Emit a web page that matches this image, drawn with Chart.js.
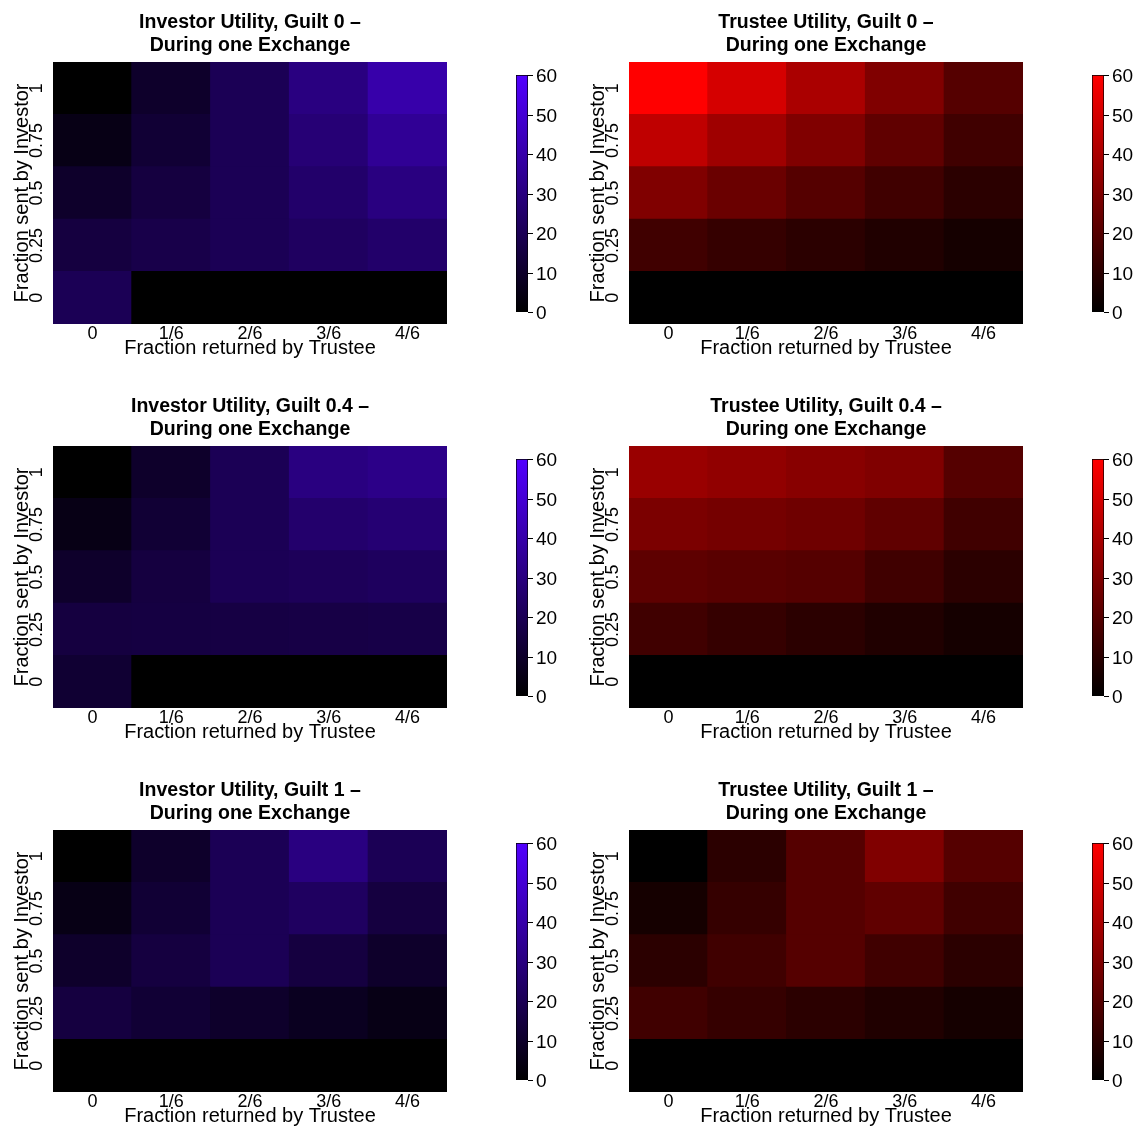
<!DOCTYPE html>
<html>
<head>
<meta charset="utf-8">
<script src="https://cdn.jsdelivr.net/npm/chart.js"></script>
<style>
  body { margin: 0; background: #fff; width: 1146px; height: 1129px; position: relative; overflow: hidden; }
  canvas { position: absolute; }
</style>
</head>
<body>
<script>
// axis categories
const returnedLabels = ['0', '1/6', '2/6', '3/6', '4/6'];
const sentLabels = ['0', '0.25', '0.5', '0.75', '1'];
const colorbarTicks = [0, 10, 20, 30, 40, 50, 60];
const scaleMax = 60;

// utility values, one row per fraction sent (0 .. 1), columns = fraction returned (0 .. 4/6)
const investorGuilt0 = [
  [20, 0, 0, 0, 0],
  [15, 17.5, 20, 22.5, 25],
  [10, 15, 20, 25, 30],
  [5, 12.5, 20, 27.5, 35],
  [0, 10, 20, 30, 40]
];
const trusteeGuilt0 = [
  [0, 0, 0, 0, 0],
  [15, 12.5, 10, 7.5, 5],
  [30, 25, 20, 15, 10],
  [45, 37.5, 30, 22.5, 15],
  [60, 50, 40, 30, 20]
];
const investorGuilt04 = [
  [12, 0, 0, 0, 0],
  [15, 15.5, 16, 16.5, 17],
  [10, 15, 20, 21, 22],
  [5, 12.5, 20, 25.5, 27],
  [0, 10, 20, 30, 32]
];
const trusteeGuilt04 = [
  [0, 0, 0, 0, 0],
  [15, 12.5, 10, 7.5, 5],
  [22, 21, 20, 15, 10],
  [29, 27.5, 26, 22.5, 15],
  [36, 34, 32, 30, 20]
];
const investorGuilt1 = [
  [0, 0, 0, 0, 0],
  [15, 12.5, 10, 7.5, 5],
  [10, 15, 20, 15, 10],
  [5, 12.5, 20, 22.5, 15],
  [0, 10, 20, 30, 20]
];
const trusteeGuilt1 = [
  [0, 0, 0, 0, 0],
  [15, 12.5, 10, 7.5, 5],
  [10, 15, 20, 15, 10],
  [5, 12.5, 20, 22.5, 15],
  [0, 10, 20, 30, 20]
];

const PURPLE = [82, 0, 255];
const RED = [255, 0, 0];
const FONT = '"Liberation Sans", Arial, Helvetica, sans-serif';

const panels = [
  { title: ['Investor Utility, Guilt 0 \u2013', 'During one Exchange'], values: investorGuilt0, top: PURPLE, col: 0, row: 0 },
  { title: ['Trustee Utility, Guilt 0 \u2013', 'During one Exchange'], values: trusteeGuilt0, top: RED, col: 1, row: 0 },
  { title: ['Investor Utility, Guilt 0.4 \u2013', 'During one Exchange'], values: investorGuilt04, top: PURPLE, col: 0, row: 1 },
  { title: ['Trustee Utility, Guilt 0.4 \u2013', 'During one Exchange'], values: trusteeGuilt04, top: RED, col: 1, row: 1 },
  { title: ['Investor Utility, Guilt 1 \u2013', 'During one Exchange'], values: investorGuilt1, top: PURPLE, col: 0, row: 2 },
  { title: ['Trustee Utility, Guilt 1 \u2013', 'During one Exchange'], values: trusteeGuilt1, top: RED, col: 1, row: 2 }
];

function colorFor(top, v) {
  const t = Math.max(0, Math.min(1, v / scaleMax));
  return 'rgb(' + top.map(c => Math.round(c * t)).join(',') + ')';
}

function addCanvas(left, top, w, h) {
  const c = document.createElement('canvas');
  c.width = w; c.height = h;
  c.style.left = left + 'px'; c.style.top = top + 'px';
  c.style.width = w + 'px'; c.style.height = h + 'px';
  document.body.appendChild(c);
  return c;
}

// titles, tick labels and axis titles for a heatmap
const heatmapText = {
  id: 'heatmapText',
  afterDraw(chart, args, opts) {
    const ctx = chart.ctx;
    const area = chart.chartArea;
    const x = chart.scales.x, y = chart.scales.y;
    const cx = (area.left + area.right) / 2;
    const cy = (area.top + area.bottom) / 2;
    ctx.save();
    ctx.fillStyle = '#000';
    ctx.textAlign = 'center';
    ctx.textBaseline = 'alphabetic';
    ctx.font = 'bold 19.5px ' + FONT;
    ctx.fillText(opts.title[0], cx, 27.5);
    ctx.fillText(opts.title[1], cx, 51);

    ctx.font = '18px ' + FONT;
    returnedLabels.forEach((lab, i) => {
      ctx.fillText(lab, x.getPixelForValue(i), area.bottom + 15);
    });
    ctx.font = '20px ' + FONT;
    ctx.fillText('Fraction returned by Trustee', cx, area.bottom + 30);

    ctx.translate(0, 0);
    sentLabels.forEach((lab, i) => {
      ctx.save();
      ctx.translate(area.left - 11, y.getPixelForValue(i + 0.5));
      ctx.rotate(-Math.PI / 2);
      ctx.font = '18px ' + FONT;
      ctx.fillText(lab, 0, 0);
      ctx.restore();
    });
    ctx.save();
    ctx.translate(area.left - 25, cy);
    ctx.rotate(-Math.PI / 2);
    ctx.font = '20px ' + FONT;
    ctx.fillText('Fraction sent by Investor', 0, 0);
    ctx.restore();
    ctx.restore();
  }
};

// tick marks and labels beside a colour bar
const colorbarText = {
  id: 'colorbarText',
  afterDraw(chart) {
    const ctx = chart.ctx;
    const area = chart.chartArea;
    const y = chart.scales.y;
    ctx.save();
    ctx.strokeStyle = '#000';
    ctx.lineWidth = 1;
    ctx.fillStyle = '#000';
    ctx.font = '19px ' + FONT;
    ctx.textAlign = 'left';
    ctx.textBaseline = 'middle';
    colorbarTicks.forEach(t => {
      const py = Math.round(y.getPixelForValue(t)) + 0.5;
      ctx.beginPath();
      ctx.moveTo(area.right, py);
      ctx.lineTo(area.right + 5, py);
      ctx.stroke();
      ctx.fillText(String(t), area.right + 8, py + 1);
    });
    ctx.restore();
  }
};

panels.forEach(p => {
  const hm = addCanvas(p.col * 576, p.row * 384, 470, 384);
  const datasets = sentLabels.map((s, i) => ({
    label: s,
    data: returnedLabels.map(() => [i, i + 1]),
    backgroundColor: p.values[i].map(v => colorFor(p.top, v)),
    borderWidth: 0,
    barPercentage: 1,
    categoryPercentage: 1,
    grouped: false,
    inflateAmount: 0.5
  }));
  new Chart(hm, {
    type: 'bar',
    data: { labels: returnedLabels, datasets },
    options: {
      responsive: false,
      animation: false,
      layout: { padding: { left: 53, top: 62, right: 23, bottom: 60 } },
      plugins: {
        legend: { display: false },
        tooltip: { enabled: false },
        heatmapText: { title: p.title }
      },
      scales: {
        x: { display: false },
        y: { display: false, min: 0, max: sentLabels.length }
      }
    },
    plugins: [heatmapText]
  });

  const cb = addCanvas(490 + p.col * 576, p.row * 384, 80, 384);
  new Chart(cb, {
    type: 'bar',
    data: {
      labels: ['scale'],
      datasets: [{
        data: [[0, scaleMax]],
        backgroundColor: (c) => {
          const area = c.chart.chartArea;
          if (!area) return '#000';
          const g = c.chart.ctx.createLinearGradient(0, area.bottom, 0, area.top);
          g.addColorStop(0, colorFor(p.top, 0));
          g.addColorStop(1, colorFor(p.top, scaleMax));
          return g;
        },
        borderColor: '#000',
        borderWidth: 1,
        borderSkipped: false,
        barPercentage: 1,
        categoryPercentage: 1
      }]
    },
    options: {
      responsive: false,
      animation: false,
      layout: { padding: { left: 26, top: 75, right: 42, bottom: 72 } },
      plugins: { legend: { display: false }, tooltip: { enabled: false } },
      scales: {
        x: { display: false },
        y: { display: false, min: 0, max: scaleMax }
      }
    },
    plugins: [colorbarText]
  });
});
</script>
</body>
</html>
